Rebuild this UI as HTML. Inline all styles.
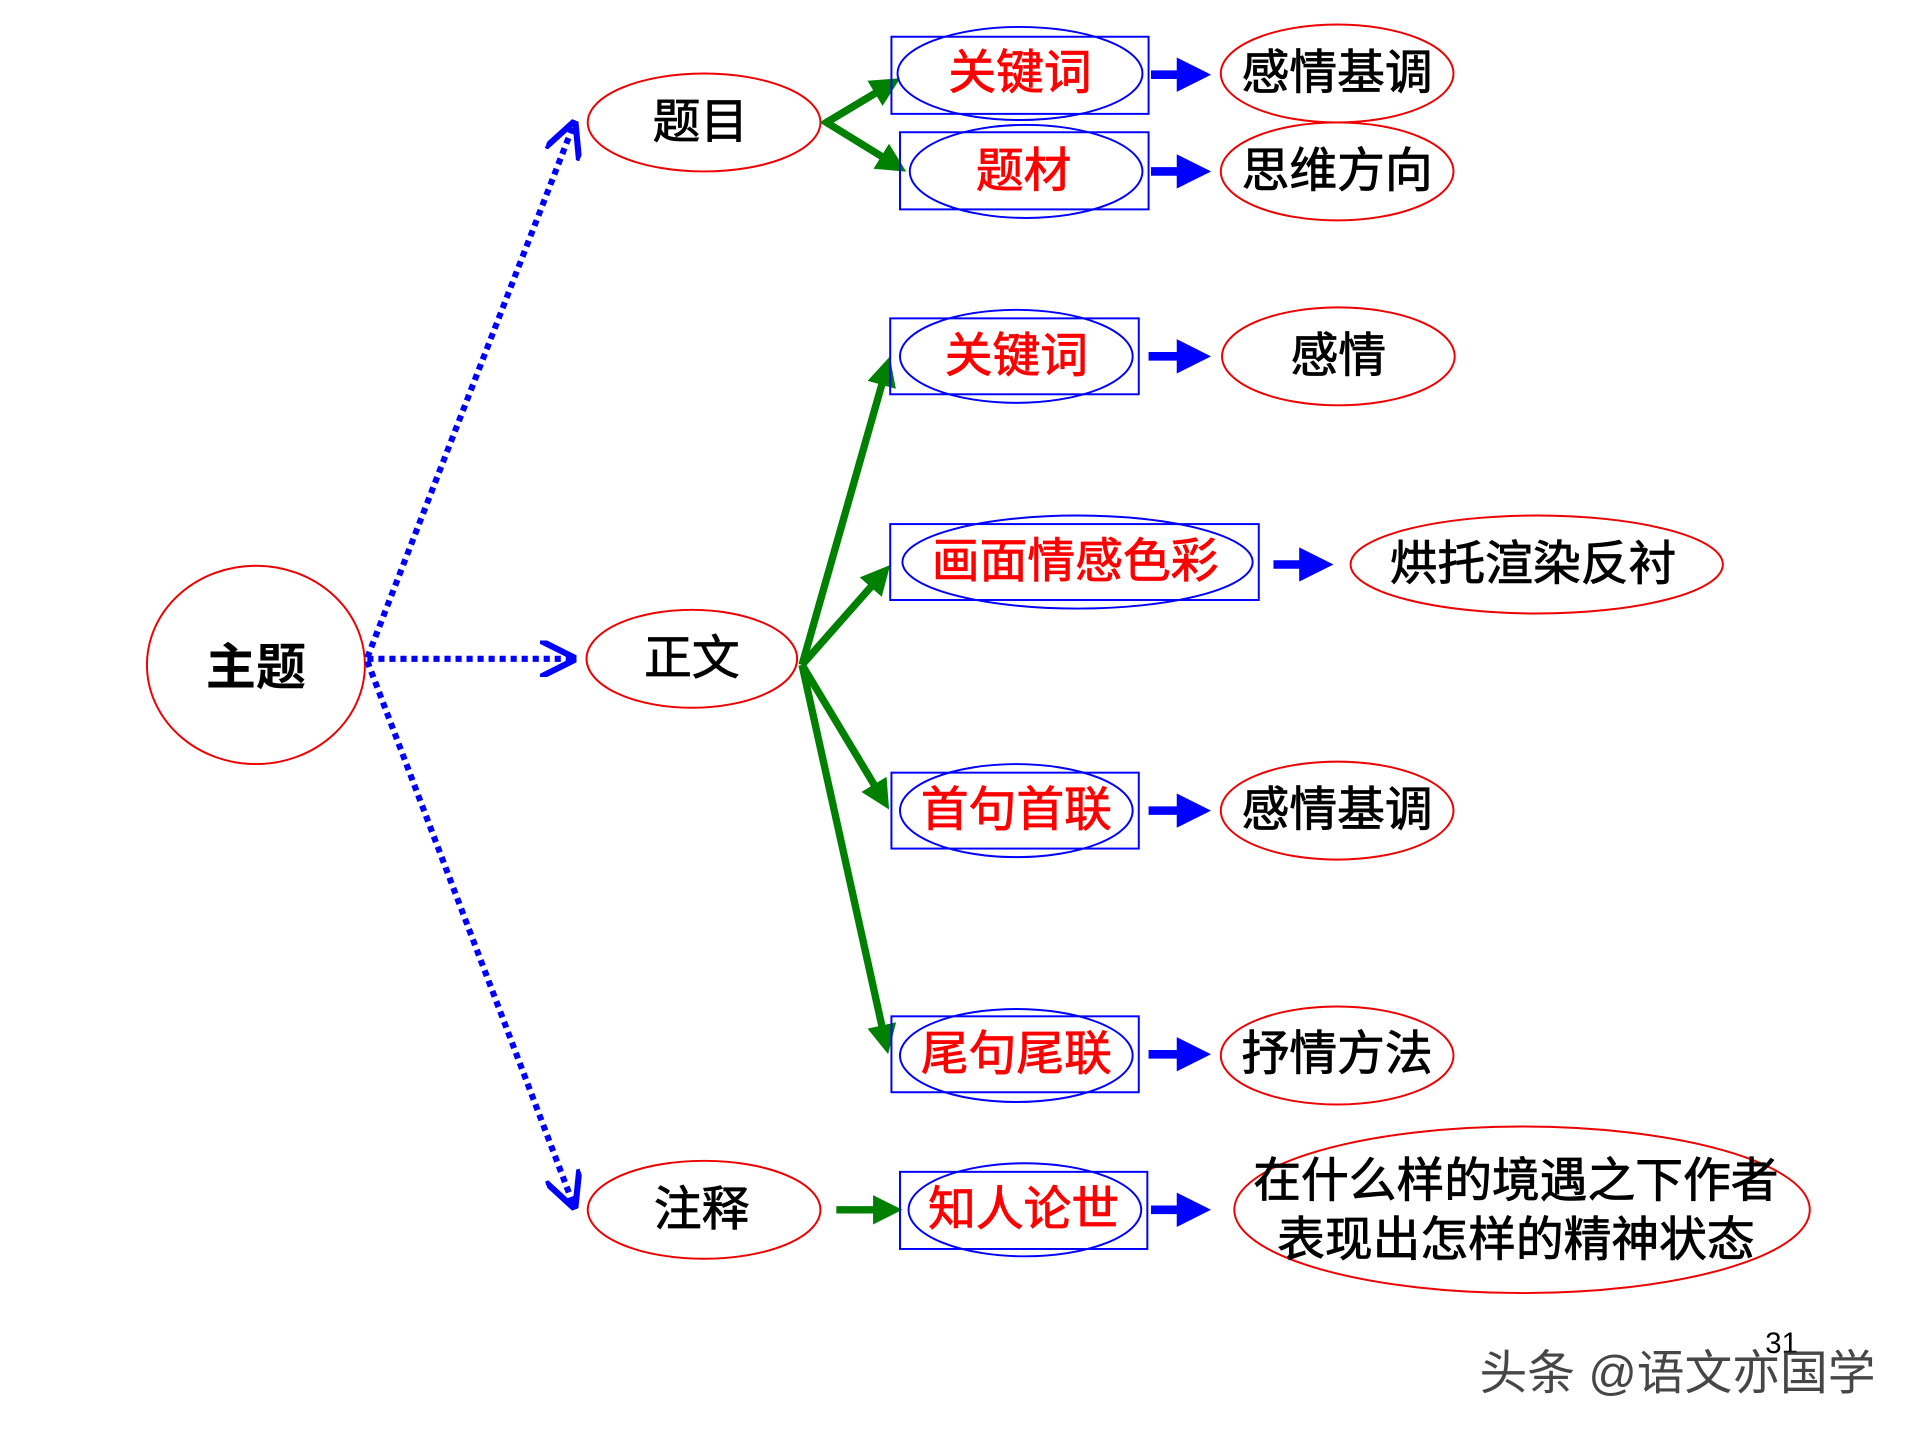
<!DOCTYPE html>
<html><head><meta charset="utf-8"><style>
html,body{margin:0;padding:0;background:#fff;}
svg{display:block;}
text{font-family:"Liberation Sans","Noto Sans CJK SC",sans-serif;text-anchor:middle;dominant-baseline:central;}
.k{fill:#000;stroke:#000;stroke-width:0.7;font-size:39px;}
.r{fill:#f00;stroke:#f00;stroke-width:0.7;font-size:39px;}
.re{fill:none;stroke:#e00;stroke-width:1.6;}
.be{fill:none;stroke:#00f;stroke-width:1.6;}
.bx{fill:none;stroke:#00f;stroke-width:1.6;}
.dot{stroke:#00f;stroke-width:5;stroke-dasharray:5 4;fill:none;}
.g{stroke:#008000;stroke-width:6;fill:none;}
.bl{stroke:#00f;stroke-width:7;fill:none;}
</style></head><body>
<svg width="1920" height="1440" viewBox="0 0 1568 1176" preserveAspectRatio="none" xmlns="http://www.w3.org/2000/svg">
<defs>
<marker id="ga" markerWidth="4" markerHeight="4" refX="3" refY="2" orient="auto" markerUnits="strokeWidth"><path d="M0,0 L4,2 L0,4 Z" fill="#008000"/></marker>
<marker id="ba" markerWidth="4" markerHeight="4" refX="3" refY="2" orient="auto" markerUnits="strokeWidth"><path d="M0,0 L4,2 L0,4 Z" fill="#00f"/></marker>
<marker id="da" markerWidth="6" markerHeight="6" refX="5" refY="3" orient="auto" markerUnits="strokeWidth"><path d="M0,0 L6,3 L0,6" fill="none" stroke="#00f" stroke-width="1"/></marker>
</defs>
<ellipse class="re" cx="209" cy="543" rx="89" ry="81"/>
<text x="209" y="545" style="font-size:41px;font-weight:bold">主题</text>
<line class="dot" x1="300" y1="537" x2="468" y2="103" marker-end="url(#da)"/>
<line class="dot" x1="300" y1="538" x2="466" y2="538" marker-end="url(#da)"/>
<line class="dot" x1="300" y1="540" x2="468" y2="983" marker-end="url(#da)"/>
<ellipse class="re" cx="575" cy="100" rx="95" ry="40"/><text class="k" x="572" y="100">题目</text>
<ellipse class="re" cx="565" cy="538" rx="86" ry="40"/><text class="k" x="565" y="538">正文</text>
<ellipse class="re" cx="575" cy="988" rx="95" ry="40"/><text class="k" x="573" y="988">注释</text>
<polyline class="g" points="730,67 675,100 735,137" marker-end="url(#ga)"/>
<line class="g" x1="675" y1="100" x2="730" y2="67" marker-end="url(#ga)"/>
<line class="g" x1="655" y1="543" x2="725" y2="297" marker-end="url(#ga)"/>
<line class="g" x1="655" y1="543" x2="723" y2="466" marker-end="url(#ga)"/>
<line class="g" x1="655" y1="543" x2="723" y2="656" marker-end="url(#ga)"/>
<line class="g" x1="655" y1="543" x2="724" y2="855" marker-end="url(#ga)"/>
<line class="g" x1="683" y1="988" x2="731" y2="988" marker-end="url(#ga)"/>
<rect class="bx" x="728" y="30" width="210" height="63"/><ellipse class="be" cx="833" cy="60" rx="100" ry="38"/><text class="r" x="833" y="60">关键词</text>
<rect class="bx" x="735" y="108" width="203" height="63"/><ellipse class="be" cx="838" cy="140" rx="95" ry="38"/><text class="r" x="836" y="140">题材</text>
<rect class="bx" x="727" y="260" width="203" height="62"/><ellipse class="be" cx="830" cy="291" rx="95" ry="38"/><text class="r" x="830" y="291">关键词</text>
<rect class="bx" x="727" y="428" width="301" height="62"/><ellipse class="be" cx="880" cy="459" rx="143" ry="38"/><text class="r" x="878" y="459">画面情感色彩</text>
<rect class="bx" x="728" y="631" width="202" height="62"/><ellipse class="be" cx="830" cy="662" rx="95" ry="38"/><text class="r" x="830" y="662">首句首联</text>
<rect class="bx" x="728" y="830" width="202" height="62"/><ellipse class="be" cx="830" cy="862" rx="95" ry="38"/><text class="r" x="830" y="861">尾句尾联</text>
<rect class="bx" x="735" y="957" width="202" height="63"/><ellipse class="be" cx="837" cy="988" rx="95" ry="38"/><text class="r" x="836" y="988">知人论世</text>
<line class="bl" x1="940" y1="61" x2="982" y2="61" marker-end="url(#ba)"/>
<line class="bl" x1="940" y1="140" x2="982" y2="140" marker-end="url(#ba)"/>
<line class="bl" x1="938" y1="291" x2="982" y2="291" marker-end="url(#ba)"/>
<line class="bl" x1="1040" y1="461" x2="1082" y2="461" marker-end="url(#ba)"/>
<line class="bl" x1="938" y1="662" x2="982" y2="662" marker-end="url(#ba)"/>
<line class="bl" x1="938" y1="861" x2="982" y2="861" marker-end="url(#ba)"/>
<line class="bl" x1="940" y1="988" x2="982" y2="988" marker-end="url(#ba)"/>
<ellipse class="re" cx="1092" cy="60" rx="95" ry="40"/><text class="k" x="1092" y="60">感情基调</text>
<ellipse class="re" cx="1092" cy="140" rx="95" ry="40"/><text class="k" x="1092" y="140">思维方向</text>
<ellipse class="re" cx="1093" cy="291" rx="95" ry="40"/><text class="k" x="1093" y="291">感情</text>
<ellipse class="re" cx="1255" cy="461" rx="152" ry="40"/><text class="k" x="1252" y="461">烘托渲染反衬</text>
<ellipse class="re" cx="1092" cy="662" rx="95" ry="40"/><text class="k" x="1092" y="662">感情基调</text>
<ellipse class="re" cx="1092" cy="862" rx="95" ry="40"/><text class="k" x="1092" y="861">抒情方法</text>
<ellipse class="re" cx="1243" cy="988" rx="235" ry="68"/>
<text class="k" x="1238" y="965">在什么样的境遇之下作者</text>
<text class="k" x="1238" y="1013">表现出怎样的精神状态</text>
<text x="1455" y="1097" style="font-size:24px;fill:#000">31</text>
<text x="1370" y="1122" style="font-size:39px;fill:#333;opacity:0.9">头条 @语文亦国学</text>
</svg>
</body></html>
